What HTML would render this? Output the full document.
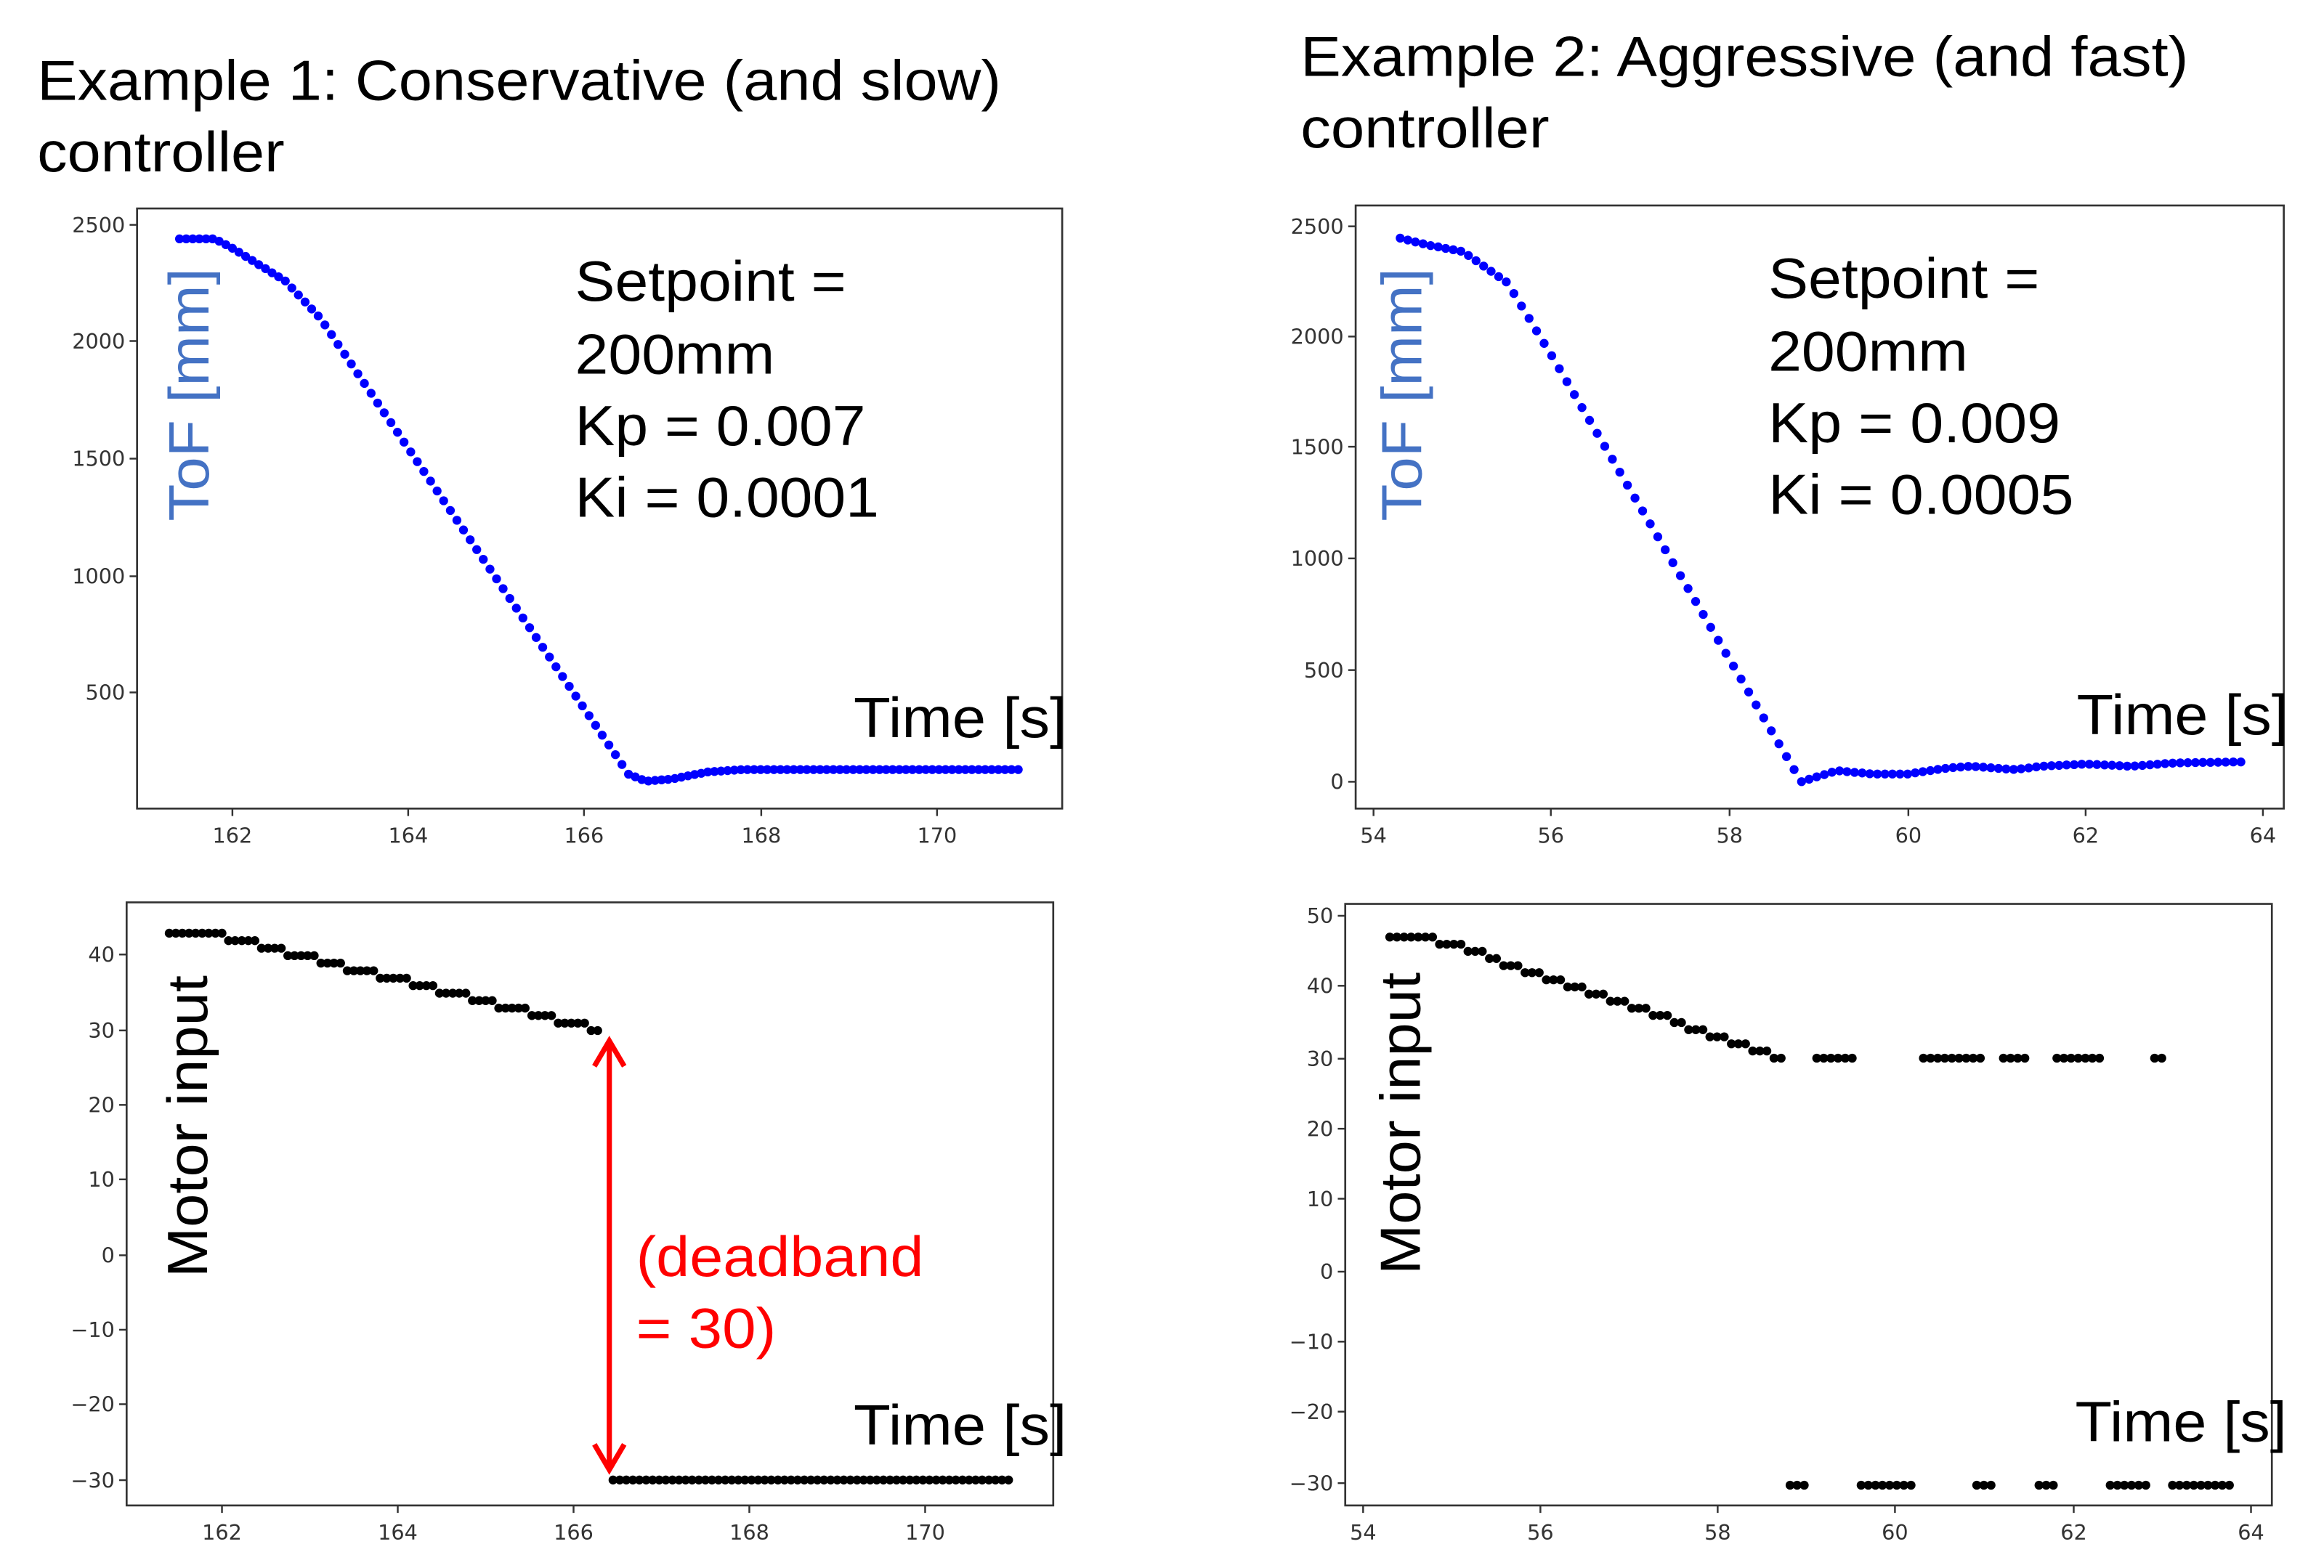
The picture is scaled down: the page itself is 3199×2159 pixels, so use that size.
<!DOCTYPE html>
<html><head><meta charset="utf-8"><style>
html,body{margin:0;padding:0;background:#fff;}
svg{display:block;}
text{font-family:"Liberation Sans",Arial,sans-serif;}
.t{font-size:14px;fill:#333;font-family:"DejaVu Sans",sans-serif;}
.big{font-size:38px;fill:#000;}
</style></head><body>
<svg id="s" width="3199" height="2159" viewBox="0 0 1560 1053" preserveAspectRatio="none" xmlns="http://www.w3.org/2000/svg">
<rect width="1560" height="1053" fill="#fff"/>
<text class="big" x="25" y="67" textLength="647" lengthAdjust="spacingAndGlyphs">Example 1: Conservative (and slow)</text>
<text class="big" x="25" y="115" textLength="166" lengthAdjust="spacingAndGlyphs">controller</text>
<text class="big" x="873" y="51" textLength="596" lengthAdjust="spacingAndGlyphs">Example 2: Aggressive (and fast)</text>
<text class="big" x="873" y="99" textLength="167" lengthAdjust="spacingAndGlyphs">controller</text>

<g fill="none" stroke="#333" stroke-width="1.3">
<rect x="92" y="140" width="621" height="403"/>
<rect x="910" y="138" width="623" height="405"/>
<rect x="85" y="606" width="622" height="405"/>
<rect x="903" y="607" width="622" height="404"/>
</g>
<g id="ticks"></g>
<g id="dots"></g>

<text class="big" x="386" y="202" textLength="182" lengthAdjust="spacingAndGlyphs">Setpoint =</text>
<text class="big" x="386" y="251" textLength="134" lengthAdjust="spacingAndGlyphs">200mm</text>
<text class="big" x="386" y="299" textLength="195" lengthAdjust="spacingAndGlyphs">Kp = 0.007</text>
<text class="big" x="386" y="347" textLength="204" lengthAdjust="spacingAndGlyphs">Ki = 0.0001</text>
<text class="big" x="1187" y="200" textLength="182" lengthAdjust="spacingAndGlyphs">Setpoint =</text>
<text class="big" x="1187" y="249" textLength="134" lengthAdjust="spacingAndGlyphs">200mm</text>
<text class="big" x="1187" y="297" textLength="196" lengthAdjust="spacingAndGlyphs">Kp = 0.009</text>
<text class="big" x="1187" y="345" textLength="205" lengthAdjust="spacingAndGlyphs">Ki = 0.0005</text>

<text class="big" x="573" y="495" textLength="143" lengthAdjust="spacingAndGlyphs">Time [s]</text>
<text class="big" x="1394" y="493" textLength="142" lengthAdjust="spacingAndGlyphs">Time [s]</text>
<text class="big" x="573" y="970" textLength="143" lengthAdjust="spacingAndGlyphs">Time [s]</text>
<text class="big" x="1393" y="968" textLength="142" lengthAdjust="spacingAndGlyphs">Time [s]</text>

<text class="big" transform="translate(140,350) rotate(-90)" textLength="170" lengthAdjust="spacingAndGlyphs" style="fill:#4472C4">ToF [mm]</text>
<text class="big" transform="translate(954,350) rotate(-90)" textLength="170" lengthAdjust="spacingAndGlyphs" style="fill:#4472C4">ToF [mm]</text>
<text class="big" transform="translate(139,858) rotate(-90)" textLength="203" lengthAdjust="spacingAndGlyphs">Motor input</text>
<text class="big" transform="translate(953,856) rotate(-90)" textLength="203" lengthAdjust="spacingAndGlyphs">Motor input</text>

<g stroke="#f00" stroke-width="3.5" fill="none">
<line x1="409" y1="700" x2="409" y2="986"/>
<polyline points="399,716 409,699 419,716"/>
<polyline points="399,970 409,987 419,970"/>
</g>
<text x="427" y="857" textLength="193" lengthAdjust="spacingAndGlyphs" style="font-size:38px;fill:#f00">(deadband</text>
<text x="427" y="905" textLength="94" lengthAdjust="spacingAndGlyphs" style="font-size:38px;fill:#f00">= 30)</text>
</svg>
<script>
var NS="http://www.w3.org/2000/svg";
var tg=document.getElementById("ticks"),dg=document.getElementById("dots");
function el(n,a,p,txt){var e=document.createElementNS(NS,n);for(var k in a)e.setAttribute(k,a[k]);if(txt!==undefined)e.textContent=txt;p.appendChild(e);return e;}
function xt(x,yb,lab){el("line",{x1:x,y1:yb,x2:x,y2:yb+5,stroke:"#333","stroke-width":1.2},tg);el("text",{x:x,y:yb+23,"class":"t","text-anchor":"middle"},tg,lab);}
function yt(xl,y,lab){el("line",{x1:xl-5,y1:y,x2:xl,y2:y,stroke:"#333","stroke-width":1.2},tg);el("text",{x:xl-8,y:y+5,"class":"t","text-anchor":"end"},tg,lab);}
[[162,156],[164,274],[166,392],[168,511],[170,629]].forEach(function(a){xt(a[1],543,a[0]);});
[[2500,151],[2000,229],[1500,308],[1000,387],[500,465]].forEach(function(a){yt(92,a[1],a[0]);});
[[54,922],[56,1041],[58,1161],[60,1281],[62,1400],[64,1519]].forEach(function(a){xt(a[1],543,a[0]);});
[[2500,152],[2000,226],[1500,300],[1000,375],[500,450],[0,525]].forEach(function(a){yt(910,a[1],a[0]);});
[[162,149],[164,267],[166,385],[168,503],[170,621]].forEach(function(a){xt(a[1],1011,a[0]);});
[[40,641],[30,692],[20,742],[10,792],[0,843],[-10,893],[-20,943],[-30,994]].forEach(function(a){yt(85,a[1],a[0]<0?"\u2212"+(-a[0]):a[0]);});
[[54,915],[56,1034],[58,1153],[60,1272],[62,1392],[64,1511]].forEach(function(a){xt(a[1],1011,a[0]);});
[[50,615],[40,662],[30,711],[20,758],[10,805],[0,854],[-10,901],[-20,948],[-30,996]].forEach(function(a){yt(903,a[1],a[0]<0?"\u2212"+(-a[0]):a[0]);});

function interp(k,t){for(var i=0;i<k.length-1;i++){if(t<=k[i+1][0]){var f=(t-k[i][0])/(k[i+1][0]-k[i][0]);return k[i][1]+f*(k[i+1][1]-k[i][1]);}}return k[k.length-1][1];}
function dot(x,y,c){el("circle",{cx:x.toFixed(1),cy:y.toFixed(1),r:3,fill:c},dg);}
var k1=[[161.4,2440],[161.8,2440],[162.0,2400],[162.6,2260],[163.0,2100],[166.5,150],[166.7,120],[167.0,130],[167.4,160],[167.8,170],[171,170]];
for(var t=161.4;t<=170.95;t+=0.075){var v=interp(k1,t);dot(156+(t-162)*59.1,465-(v-500)*0.157,"#00f");}
var k2=[[54.3,2450],[54.6,2420],[55.0,2390],[55.5,2250],[56.0,1920],[58.8,0],[59.2,50],[59.6,35],[60.0,35],[60.4,60],[60.7,70],[61.2,55],[61.5,70],[62.0,80],[62.5,70],[63.0,85],[63.8,90]];
for(var t=54.3;t<=63.8;t+=0.085){var v=interp(k2,t);dot(922+(t-54)*59.8,525-v*0.149,"#00f");}
for(var t=161.4;t<=166.32;t+=0.075){var v=t<161.9?43:Math.round(43-(t-161.9)/(166.3-161.9)*13);dot(149+(t-162)*59,843-v*5.03,"#000");}
for(var t=166.45;t<=170.95;t+=0.075){dot(149+(t-162)*59,843+30*5.03,"#000");}
for(var t=54.3;t<=58.72;t+=0.08){var v=t<54.85?47:Math.round(46-(t-55.0)/(58.7-55.0)*16);if(v>46&&t>=54.85)v=46;dot(915+(t-54)*59.7,854-v*4.78,"#000");}
var up=[[59.1,59.5],[60.3,61.0],[61.2,61.5],[61.8,62.3],[62.9,63.0]];
var dn=[[58.8,58.95],[59.6,60.2],[60.9,61.1],[61.6,61.8],[62.4,62.8],[63.1,63.8]];
up.forEach(function(r){for(var t=r[0];t<=r[1]+0.01;t+=0.08)dot(915+(t-54)*59.7,854-30*4.78,"#000");});
dn.forEach(function(r){for(var t=r[0];t<=r[1]+0.01;t+=0.08)dot(915+(t-54)*59.7,854+30*4.78,"#000");});
</script>
</body></html>
